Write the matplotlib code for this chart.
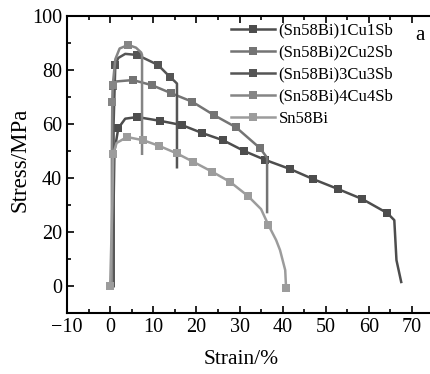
import matplotlib
matplotlib.use('Agg')
import matplotlib.pyplot as plt
from matplotlib.ticker import MultipleLocator

plt.rcParams['font.family'] = ['Liberation Serif', 'DejaVu Serif']

labels = ['(Sn58Bi)1Cu1Sb', '(Sn58Bi)2Cu2Sb', '(Sn58Bi)3Cu3Sb', '(Sn58Bi)4Cu4Sb', 'Sn58Bi']
colors = ['#4d4d4d', '#747474', '#555555', '#858585', '#9c9c9c']

# strain (%) / stress (MPa)
s1_x = [0.8, 0.8, 1.0, 1.9, 3.5, 6.3, 11.6, 16.7, 21.3, 26.2, 31.1, 36.0, 41.8, 47.1, 52.9, 58.5, 64.3, 65.9, 66.4, 67.5]
s1_y = [0, 30, 50, 58.5, 62, 62.6, 61.2, 59.6, 56.7, 54.0, 50.0, 46.7, 43.3, 39.6, 35.9, 32.2, 27.0, 24.4, 9.6, 1.5]
s1_mark = [3, 5, 6, 7, 8, 9, 10, 11, 12, 13, 14, 15, 16]

s2_x = [0.5, 0.5, 0.7, 1.5, 5.3, 9.7, 14.2, 19.0, 24.1, 29.2, 34.8, 36.4, 36.4]
s2_y = [0, 60, 74.0, 75.8, 76.3, 74.4, 71.4, 68.3, 63.3, 58.8, 51.0, 47.5, 27.4]
s2_mark = [2, 4, 5, 6, 7, 8, 9, 10]

s3_x = [0.8, 0.8, 1.2, 1.9, 3.5, 6.3, 11.1, 13.9, 15.0, 15.5, 15.5]
s3_y = [0, 60, 82.0, 84.5, 86.0, 85.6, 81.9, 77.4, 75.8, 75.0, 44.0]
s3_mark = [2, 5, 6, 7]

s4_x = [0.4, 0.4, 0.5, 0.6, 1.2, 2.2, 4.2, 6.0, 7.2, 7.4, 7.4]
s4_y = [0, 50, 68.0, 74.4, 84.0, 88.0, 89.3, 88.3, 86.5, 85.6, 49.0]
s4_mark = [2, 3, 6]

s5_x = [0, 0.5, 0.7, 1.5, 3.9, 7.7, 11.4, 15.5, 19.3, 23.7, 27.8, 32.0, 35.0, 36.7, 38.5, 39.4, 40.6, 40.8]
s5_y = [0, 30, 48.9, 53.0, 55.2, 54.0, 51.9, 49.1, 46.0, 42.3, 38.6, 33.3, 28.5, 22.6, 17.0, 13.3, 5.9, -0.7]
s5_mark = [0, 2, 4, 5, 6, 7, 8, 9, 10, 11, 13, 17]

series = [(s1_x, s1_y, s1_mark), (s2_x, s2_y, s2_mark), (s3_x, s3_y, s3_mark),
          (s4_x, s4_y, s4_mark), (s5_x, s5_y, s5_mark)]

fig = plt.figure(figsize=(4.31, 3.74), dpi=100)
# right edge of the axes runs past the picture, as in the cropped original
ax = fig.add_axes([0.1555, 0.163, 0.8654, 0.794])

for (x, y, mk), lab, c in zip(series, labels, colors):
    ax.plot(x, y, color=c, lw=1.8, marker='s', markersize=5.5, markevery=mk,
            markeredgewidth=0, label=lab)

ax.set_xlim(-10, 76.5)
ax.set_ylim(-10, 100)
ax.xaxis.set_major_locator(MultipleLocator(10))
ax.xaxis.set_minor_locator(MultipleLocator(5))
ax.yaxis.set_major_locator(MultipleLocator(20))
ax.yaxis.set_minor_locator(MultipleLocator(10))
ax.tick_params(which='both', direction='in', top=True, right=True, labelsize=14.5, width=1.2)
ax.tick_params(which='major', length=5)
ax.tick_params(which='minor', length=3)
for sp in ax.spines.values():
    sp.set_linewidth(1.5)

ax.set_xlabel('Strain/%', fontsize=15.5)
ax.xaxis.set_label_coords(0.467, -0.123)
ax.set_ylabel('Stress/MPa', fontsize=16.5)
ax.yaxis.set_label_coords(-0.098, 0.517)

ax.legend(loc='upper left', bbox_to_anchor=(0.521, 0.957), bbox_transform=fig.transFigure,
          frameon=False, fontsize=12, handlelength=2.6, handletextpad=0.25,
          labelspacing=0.36, borderaxespad=0)
fig.text(0.975, 0.905, 'a', fontsize=15, ha='center', va='center')

fig.savefig('out.png', dpi=100)
